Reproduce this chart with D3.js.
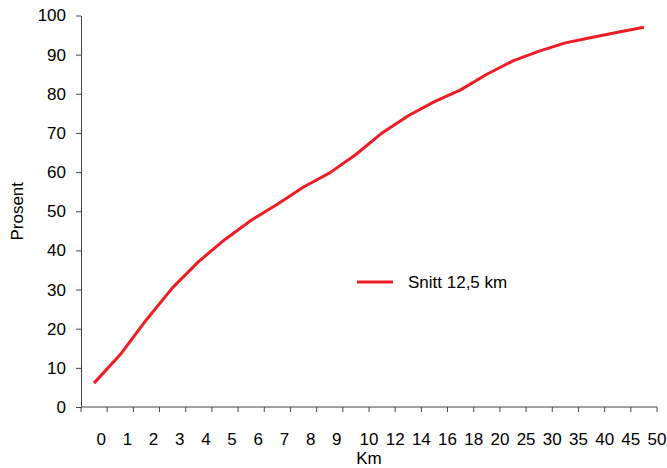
<!DOCTYPE html>
<html>
<head>
<meta charset="utf-8">
<script src="https://cdn.jsdelivr.net/npm/d3@7"></script>
<style>
  html, body { margin: 0; padding: 0; background: #fff; }
  svg { display: block; font-family: Arial, "Liberation Sans", sans-serif; }
</style>
</head>
<body>
<svg id="chart" width="667" height="468"></svg>
<script>
// Distance categories (km) and cumulative share (percent)
const categories = ["0","1","2","3","4","5","6","7","8","9","10","12","14","16","18","20","25","30","35","40","45","50"];
const values = [6.1, 13.4, 22.3, 30.5, 37.2, 42.8, 47.7, 51.8, 56.2, 59.8, 64.5, 70.0, 74.4, 78.0, 81.0, 85.0, 88.4, 90.9, 93.0, 94.4, 95.7, 97.0];
const yTicks = [0, 10, 20, 30, 40, 50, 60, 70, 80, 90, 100];
const seriesName = "Snitt 12,5 km";

const svg = d3.select("#chart");
const plotLeft = 81, plotRight = 657, plotTop = 15.5, plotBottom = 407;
const axisColor = "#444";
const lineColor = "#ee1c25";
const fontSize = 17;

const x = d3.scaleBand().domain(categories).range([plotLeft, plotRight]).padding(0);
const y = d3.scaleLinear().domain([0, 100]).range([plotBottom, plotTop]);

// Y axis
const yAxis = svg.append("g")
  .attr("transform", `translate(${plotLeft},0)`)
  .call(d3.axisLeft(y).tickValues(yTicks).tickSize(5).tickPadding(10).tickSizeOuter(0));
yAxis.select(".domain").attr("stroke", axisColor);
yAxis.selectAll(".tick line").attr("stroke", axisColor);
yAxis.selectAll(".tick text").attr("font-size", fontSize).attr("fill", "#000")
  .attr("font-family", "Arial, 'Liberation Sans', sans-serif");

// X axis: baseline plus tick marks at bin boundaries
svg.append("line")
  .attr("x1", plotLeft).attr("x2", plotRight).attr("y1", plotBottom).attr("y2", plotBottom)
  .attr("stroke", axisColor);
const boundaries = [plotLeft].concat(categories.map(c => x(c) + x.bandwidth()));
svg.append("g").selectAll("line").data(boundaries).join("line")
  .attr("x1", d => d).attr("x2", d => d)
  .attr("y1", plotBottom).attr("y2", plotBottom + 5)
  .attr("stroke", axisColor);

// Category labels sit at the right boundary of each bin
svg.append("g").selectAll("text").data(categories).join("text")
  .attr("x", d => x(d) + x.bandwidth() + (d.length === 1 ? -6 : 0))
  .attr("y", 445)
  .attr("text-anchor", "middle")
  .attr("font-size", fontSize)
  .attr("fill", "#000")
  .text(d => d);

// Axis titles
svg.append("text")
  .attr("x", (plotLeft + plotRight) / 2).attr("y", 464)
  .attr("text-anchor", "middle").attr("font-size", fontSize).attr("fill", "#000")
  .text("Km");
svg.append("text")
  .attr("transform", `translate(23,${(plotTop + plotBottom) / 2}) rotate(-90)`)
  .attr("text-anchor", "middle").attr("font-size", fontSize).attr("fill", "#000")
  .text("Prosent");

// Series line
const line = d3.line()
  .x((d, i) => x(categories[i]) + x.bandwidth() / 2)
  .y(d => y(d));
svg.append("path")
  .datum(values)
  .attr("d", line)
  .attr("fill", "none")
  .attr("stroke", lineColor)
  .attr("stroke-width", 3)
  .attr("stroke-linejoin", "round");

// Legend
const lg = svg.append("g").attr("transform", "translate(357,282)");
lg.append("line").attr("x1", 0).attr("x2", 36).attr("y1", 0).attr("y2", 0)
  .attr("stroke", lineColor).attr("stroke-width", 3);
lg.append("text").attr("x", 51).attr("y", 6).attr("font-size", fontSize).attr("fill", "#000")
  .text(seriesName);
</script>
</body>
</html>
